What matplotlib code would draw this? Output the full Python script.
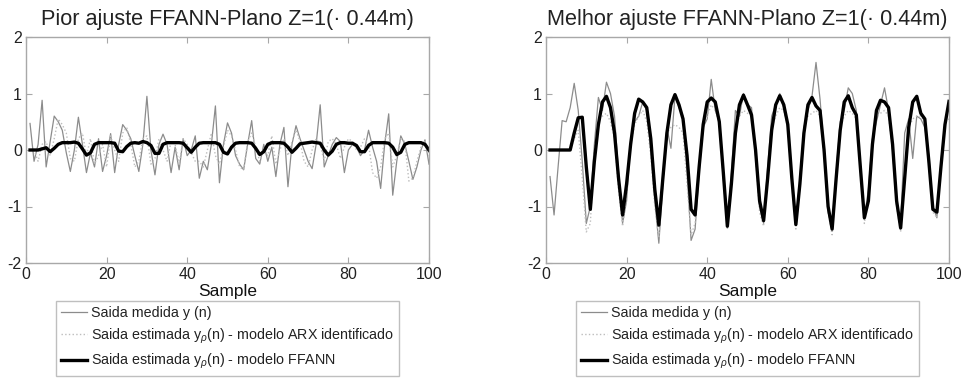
import matplotlib
matplotlib.use("Agg")
import matplotlib.pyplot as plt
import numpy as np

plt.rcParams['font.family'] = ['Liberation Sans', 'DejaVu Sans']
plt.rcParams['mathtext.fontset'] = 'custom'
plt.rcParams['mathtext.rm'] = 'Liberation Sans'
plt.rcParams['mathtext.it'] = 'Liberation Sans:italic'
plt.rcParams['axes.unicode_minus'] = False

samples = list(range(1, 101))

titles = ["Pior ajuste FFANN-Plano Z=1(\u00b7 0.44m)",
          "Melhor ajuste FFANN-Plano Z=1(\u00b7 0.44m)"]
xlabel = "Sample"
legend_labels = ["Saida medida y (n)",
                 r"Saida estimada y$_{\rho}$(n) - modelo ARX identificado",
                 r"Saida estimada y$_{\rho}$(n) - modelo FFANN"]
xticks = [0, 20, 40, 60, 80, 100]
yticks = [-2, -1, 0, 1, 2]

# ---- Left (worst fit) ----
worst_measured = [
    0.47, -0.20, 0.10, 0.88, -0.30, 0.15, 0.60, 0.50, 0.35, -0.05,
    -0.38, 0.00, 0.58, 0.10, -0.40, -0.05, -0.30, 0.20, -0.38, -0.10,
    0.29, -0.40, 0.10, 0.45, 0.35, 0.20, -0.10, -0.38, 0.10, 0.95,
    0.00, -0.44, 0.10, 0.28, 0.10, -0.40, 0.05, -0.35, 0.20, -0.10,
    0.00, 0.25, -0.50, -0.20, -0.35, 0.10, 0.78, -0.58, 0.10, 0.48,
    0.30, -0.10, -0.25, -0.35, 0.10, 0.52, -0.15, -0.25, 0.10, -0.20,
    0.05, -0.47, 0.10, 0.40, -0.65, 0.10, 0.43, 0.20, 0.00, -0.20,
    -0.33, 0.10, 0.80, -0.30, -0.10, 0.10, 0.22, 0.15, -0.40, 0.00,
    0.10, 0.05, -0.10, 0.00, 0.35, 0.05, -0.20, -0.68, 0.10, 0.64,
    -0.80, -0.20, 0.25, 0.10, -0.20, -0.52, -0.30, 0.00, 0.18, -0.25]
worst_arx = [
    0.00, 0.00, -0.20, 0.10, 0.15, -0.10, 0.20, 0.55, 0.45, 0.30,
    -0.15, -0.20, 0.20, 0.30, -0.10, 0.20, -0.25, -0.10, 0.10, -0.30,
    0.25, 0.00, -0.20, 0.30, 0.40, 0.10, -0.30, -0.20, 0.20, 0.25,
    -0.25, -0.15, 0.20, 0.00, -0.20, 0.15, 0.10, -0.25, 0.20, 0.10,
    -0.05, -0.20, -0.20, -0.30, 0.00, 0.30, -0.10, -0.25, 0.05, 0.35,
    0.25, 0.00, -0.30, -0.35, 0.15, 0.30, 0.05, -0.20, 0.00, -0.10,
    0.25, -0.25, 0.00, 0.20, -0.10, 0.15, 0.35, 0.15, -0.20, -0.30,
    0.00, 0.20, 0.10, -0.20, 0.15, 0.20, 0.10, -0.15, 0.05, 0.20,
    0.15, 0.00, 0.05, 0.20, 0.10, -0.40, -0.50, -0.30, 0.20, 0.30,
    -0.30, -0.10, 0.20, 0.15, -0.55, -0.50, -0.20, 0.05, 0.15, -0.10]
worst_ffann = [
    0.00, 0.00, 0.00, 0.02, 0.04, -0.03, 0.03, 0.10, 0.13, 0.13,
    0.13, 0.14, 0.12, 0.02, -0.09, -0.05, 0.10, 0.13, 0.13, 0.13,
    0.13, 0.12, -0.02, -0.03, 0.06, 0.12, 0.13, 0.12, 0.15, 0.13,
    0.08, -0.06, -0.06, 0.10, 0.13, 0.13, 0.13, 0.13, 0.12, 0.04,
    -0.04, 0.05, 0.12, 0.13, 0.13, 0.13, 0.13, 0.10, -0.04, -0.07,
    0.05, 0.12, 0.13, 0.13, 0.13, 0.12, 0.03, -0.08, -0.03, 0.10,
    0.13, 0.13, 0.13, 0.12, 0.05, -0.04, 0.03, 0.11, 0.12, 0.13,
    0.14, 0.13, 0.12, 0.00, -0.09, -0.02, 0.10, 0.13, 0.13, 0.12,
    0.12, 0.08, -0.03, -0.03, 0.08, 0.13, 0.13, 0.13, 0.13, 0.12,
    0.05, -0.08, -0.04, 0.10, 0.13, 0.13, 0.13, 0.13, 0.10, 0.00]

# ---- Right (best fit) ----
best_measured = [
    -0.47, -1.15, -0.30, 0.52, 0.50, 0.75, 1.18, 0.70, -0.20, -1.30,
    -1.00, 0.10, 0.93, 0.70, 1.20, 1.00, 0.60, -0.40, -1.30, -0.90,
    0.20, 0.50, 0.60, 0.85, 0.70, 0.00, -0.90, -1.65, -0.60, 0.40,
    0.03, 0.95, 0.75, 0.60, -0.40, -1.60, -1.40, -0.40, 0.40, 0.55,
    1.25, 0.70, 0.50, -0.50, -1.30, -0.40, 0.70, 0.60, 1.00, 0.80,
    0.75, -0.10, -1.00, -1.30, -0.30, 0.60, 0.80, 1.00, 0.75, 0.40,
    -0.50, -1.30, -0.50, 0.40, 0.70, 0.95, 1.55, 0.90, 0.00, -1.10,
    -1.40, -0.40, 0.50, 0.70, 1.10, 1.00, 0.70, -0.30, -1.20, -0.70,
    0.20, 0.50, 0.80, 1.10, 0.70, 0.00, -1.00, -1.30, 0.30, 0.55,
    -0.15, 0.60, 0.55, 0.40, -0.10, -1.00, -1.20, -0.20, 0.50, 0.80]
best_arx = [
    0.00, 0.00, 0.00, 0.00, 0.00, 0.00, 0.20, 0.35, -0.50, -1.45,
    -1.30, 0.00, 0.50, 0.60, 0.65, 0.50, 0.20, -0.70, -1.35, -0.80,
    0.10, 0.45, 0.60, 0.70, 0.50, -0.10, -1.00, -1.55, -0.60, 0.30,
    0.40, 0.45, 0.40, 0.30, -0.60, -1.50, -1.30, -0.30, 0.45, 0.60,
    0.80, 0.70, 0.50, -0.50, -1.40, -0.60, 0.40, 0.60, 0.70, 0.65,
    0.60, -0.10, -1.10, -1.35, -0.50, 0.40, 0.60, 0.75, 0.70, 0.40,
    -0.60, -1.40, -0.60, 0.40, 0.60, 0.65, 0.70, 0.60, -0.10, -1.10,
    -1.50, -0.50, 0.40, 0.60, 0.70, 0.65, 0.55, -0.40, -1.30, -0.80,
    0.20, 0.60, 0.65, 0.70, 0.60, 0.00, -1.00, -1.45, -0.50, 0.40,
    0.55, 0.60, 0.60, 0.50, -0.30, -1.10, -1.20, -0.30, 0.50, 0.55]
best_ffann = [
    0.00, 0.00, 0.00, 0.00, 0.00, 0.00, 0.30, 0.57, 0.58, -0.30,
    -1.05, -0.20, 0.45, 0.85, 0.95, 0.75, 0.30, -0.50, -1.15, -0.60,
    0.10, 0.65, 0.90, 0.85, 0.75, 0.20, -0.70, -1.33, -0.50, 0.30,
    0.80, 0.98, 0.80, 0.55, -0.10, -1.05, -1.15, -0.30, 0.45, 0.85,
    0.92, 0.85, 0.50, -0.40, -1.35, -0.60, 0.30, 0.80, 0.97, 0.80,
    0.62, 0.00, -0.90, -1.25, -0.50, 0.35, 0.80, 0.96, 0.80, 0.45,
    -0.50, -1.32, -0.60, 0.30, 0.80, 0.93, 0.78, 0.70, 0.00, -1.00,
    -1.40, -0.50, 0.35, 0.85, 0.96, 0.75, 0.62, -0.30, -1.20, -0.90,
    0.10, 0.70, 0.88, 0.85, 0.75, 0.10, -0.90, -1.38, -0.50, 0.40,
    0.85, 0.95, 0.65, 0.55, -0.20, -1.05, -1.10, -0.30, 0.45, 0.86]

W, H = 964, 379
fig = plt.figure(figsize=(W / 100, H / 100), dpi=100)

panels = [
    (26, titles[0], worst_measured, worst_arx, worst_ffann, 56),
    (546, titles[1], best_measured, best_arx, best_ffann, 576),
]
spine_col = '#a8a8a8'
for left_px, title, meas, arx, ffann, leg_px in panels:
    ax = fig.add_axes([left_px / W, (H - 263) / H, 403 / W, 226 / H])
    l1, = ax.plot(samples, meas, color='#8c8c8c', lw=0.9)
    l2, = ax.plot(samples, arx, color='#bdbdbd', lw=1.0, ls=':')
    l3, = ax.plot(samples, ffann, color='black', lw=2.4)
    ax.set_xlim(0, 100)
    ax.set_ylim(-2, 2)
    ax.set_xticks(xticks)
    ax.set_yticks(yticks)
    ax.tick_params(direction='in', top=True, right=True, length=4,
                   color=spine_col, labelsize=11.5, labelcolor='#222222', pad=3)
    for s in ax.spines.values():
        s.set_color(spine_col)
        s.set_linewidth(1.0)
    ax.set_title(title, fontsize=15.6, color='#222222', pad=9)
    ax.set_xlabel(xlabel, fontsize=12.5, color='#111111', labelpad=1)
    leg = ax.legend([l1, l2, l3], legend_labels, loc='upper left',
                    bbox_to_anchor=(leg_px / W, (H - 301) / H),
                    bbox_transform=fig.transFigure, borderaxespad=0,
                    fontsize=10.3, frameon=True, fancybox=False,
                    edgecolor='#b0b0b0', handlelength=1.8, handletextpad=0.3,
                    labelspacing=0.45, borderpad=0.35)
    leg.get_frame().set_linewidth(1.0)
    for t in leg.get_texts():
        t.set_color('#222222')

fig.savefig('out.png', dpi=100)
